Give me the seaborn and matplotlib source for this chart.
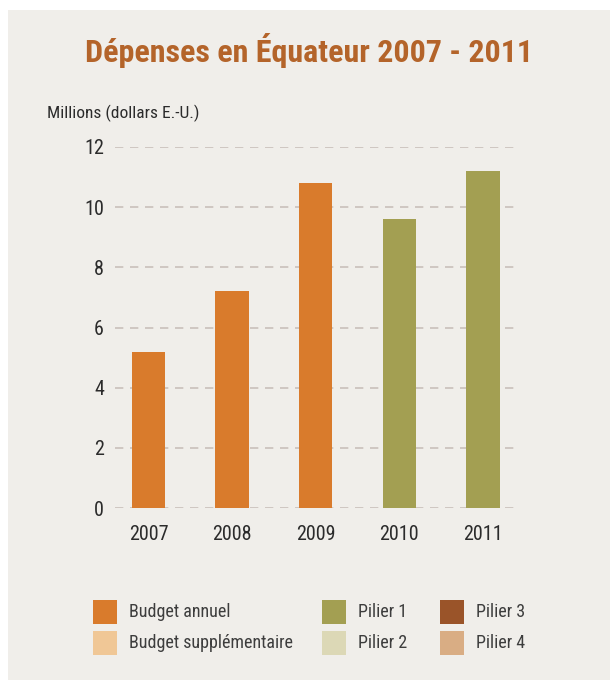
import matplotlib
matplotlib.use("Agg")
import matplotlib.pyplot as plt
import seaborn as sns
import pandas as pd
from matplotlib.patches import Rectangle
from matplotlib import font_manager as fm

years = ["2007", "2008", "2009", "2010", "2011"]
values = [5.2, 7.2, 10.8, 9.6, 11.2]
series = ["Budget annuel", "Budget annuel", "Budget annuel", "Pilier 1", "Pilier 1"]
yticks = [0, 2, 4, 6, 8, 10, 12]
legend_labels = ["Budget annuel", "Budget supplémentaire", "Pilier 1", "Pilier 2", "Pilier 3", "Pilier 4"]
legend_colors = ["#d97b2c", "#f0c796", "#a39f52", "#dcd8b6", "#9a5429", "#d9ad84"]
color_map = dict(zip(legend_labels, legend_colors))

sns.set_theme(style="white")

# pick a condensed font if one is installed
entries = fm.fontManager.ttflist
names = {f.name for f in entries}
family = "DejaVu Sans"
stretch = "normal"
for cand in ["Liberation Sans Narrow", "Roboto Condensed", "Open Sans Condensed",
             "Noto Sans Condensed", "DejaVu Sans Condensed"]:
    if cand in names:
        family = cand
        break
else:
    for f in entries:
        if f.name in ("DejaVu Sans", "Noto Sans", "Roboto", "Open Sans") and "ondensed" in str(f.stretch).lower() + f.fname.lower():
            family = f.name
            stretch = "condensed"
            break
fonts = [family, "DejaVu Sans"]
plt.rcParams["font.family"] = fonts
plt.rcParams["font.stretch"] = stretch

fig = plt.figure(figsize=(6.1, 6.8), dpi=100)
fig.patch.set_facecolor("white")
bg = "#f0eeea"
fig.patches.append(Rectangle((8 / 610, 0), 1, 1 - 10 / 680, transform=fig.transFigure,
                             facecolor=bg, edgecolor="none", zorder=-10))

ax = fig.add_axes([115 / 610, 1 - 508 / 680, (518 - 115) / 610, (508 - 147) / 680])
ax.set_facecolor("none")

df = pd.DataFrame({"year": years, "value": values, "series": series})
sns.barplot(data=df, x="year", y="value", hue="series", palette=color_map,
            width=0.4, dodge=False, legend=False, ax=ax, saturation=1, zorder=3,
            linewidth=0)

ax.set_xlim(-0.4, 4.42)
ax.set_ylim(0, 12)
ax.set_yticks(yticks)
ax.set_yticklabels([str(v) for v in yticks])
for y in yticks:
    ax.axhline(y, color="#c9c0ba", linestyle=(0, (5, 4)), linewidth=1.2, zorder=1)
for s in ax.spines.values():
    s.set_visible(False)
ax.tick_params(axis="both", length=0, labelsize=14.5, labelcolor="#2b2b2b")
ax.tick_params(axis="y", pad=8)
ax.tick_params(axis="x", pad=12)
ax.set_xlabel("")
ax.set_ylabel("")

fig.text(0.507, 1 - 50 / 680, "Dépenses en Équateur 2007 - 2011", ha="center", va="center",
         fontsize=23, fontweight="bold", color="#b4642a")
fig.text(47 / 610, 1 - 113 / 680, "Millions (dollars E.-U.)", ha="left", va="center",
         fontsize=12.5, color="#2b2b2b")

# legend
positions = [(93, 612), (93, 643), (322, 612), (322, 643), (440, 612), (440, 643)]
for (px, py), lab, col in zip(positions, legend_labels, legend_colors):
    fig.patches.append(Rectangle((px / 610, 1 - (py + 12) / 680), 24 / 610, 24 / 680,
                                 transform=fig.transFigure, facecolor=col, edgecolor="none"))
    fig.text((px + 36) / 610, 1 - py / 680, lab, ha="left", va="center",
             fontsize=13, color="#3d3d3d")

fig.savefig("out.png", dpi=100, facecolor=fig.get_facecolor())
